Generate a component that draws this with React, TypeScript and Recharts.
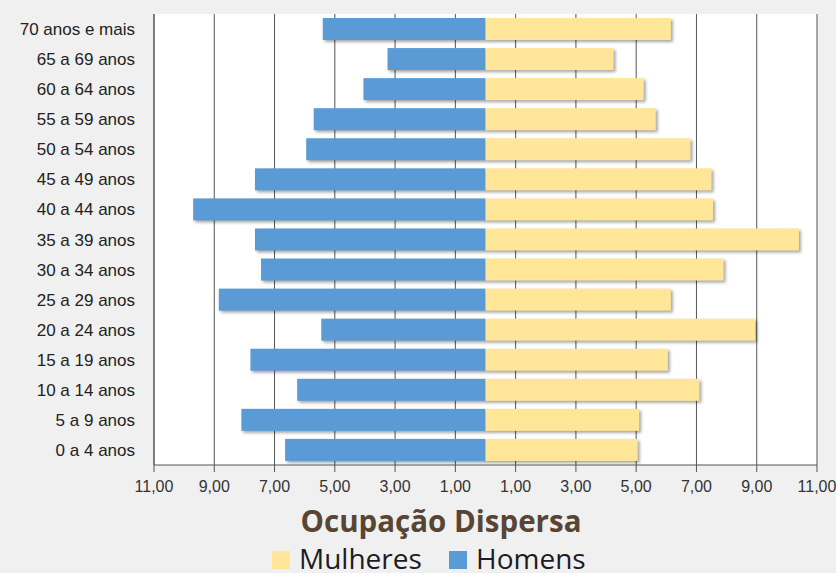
import React from "react";
import { BarChart, Bar, XAxis, YAxis, CartesianGrid } from "recharts";

const categories = [
  "70 anos e mais",
  "65 a 69 anos",
  "60 a 64 anos",
  "55 a 59 anos",
  "50 a 54 anos",
  "45 a 49 anos",
  "40 a 44 anos",
  "35 a 39 anos",
  "30 a 34 anos",
  "25 a 29 anos",
  "20 a 24 anos",
  "15 a 19 anos",
  "10 a 14 anos",
  "5 a 9 anos",
  "0 a 4 anos",
];
const homens = [5.4, 3.25, 4.05, 5.7, 5.95, 7.65, 9.7, 7.65, 7.45, 8.85, 5.45, 7.8, 6.25, 8.1, 6.65];
const mulheres = [6.15, 4.25, 5.25, 5.65, 6.8, 7.5, 7.55, 10.4, 7.9, 6.15, 8.95, 6.05, 7.1, 5.1, 5.05];
const xTicks = [-11, -9, -7, -5, -3, -1, 1, 3, 5, 7, 9, 11];
const title = "Ocupação Dispersa";
const seriesNames = { mulheres: "Mulheres", homens: "Homens" };

const COLOR_H = "#5b9bd5";
const COLOR_M = "#ffe699";

const data = categories.map((c, i) => ({
  cat: c,
  homens: -homens[i],
  mulheres: mulheres[i],
}));

const fmt = (v: number) => Math.abs(v).toFixed(2).replace(".", ",");

const ShadowBar = (props: any) => {
  const { x, y, width, height, fill } = props;
  if (width == null || height == null) return null;
  const rx = width < 0 ? x + width : x;
  const w = Math.abs(width);
  return (
    <rect
      x={rx}
      y={y}
      width={w}
      height={height}
      fill={fill}
      style={{ filter: "drop-shadow(2px 2px 1.5px rgba(0,0,0,0.35))" }}
    />
  );
};

const CatTick = (props: any) => {
  const { y, payload } = props;
  return (
    <text
      x={135}
      y={y}
      dy="0.355em"
      textAnchor="end"
      fontFamily="'Liberation Sans', Arial, sans-serif"
      fontSize={17}
      fill="#222"
    >
      {payload.value}
    </text>
  );
};

export default function App() {
  return (
    <div
      style={{
        position: "absolute",
        left: 0,
        top: 0,
        width: 836,
        height: 573,
        background: "#f0f0f0",
        overflow: "hidden",
      }}
    >
      <BarChart
        width={836}
        height={500}
        data={data}
        layout="vertical"
        stackOffset="sign"
        margin={{ top: 14, right: 19, left: 0, bottom: 0 }}
      >
        <CartesianGrid horizontal={false} vertical stroke="#555" fill="#ffffff" />
        <XAxis
          type="number"
          domain={[-11, 11]}
          ticks={xTicks}
          tickFormatter={fmt}
          height={35}
          tickSize={7}
          tickMargin={9}
          axisLine={{ stroke: "#555" }}
          tickLine={{ stroke: "#555" }}
          tick={{
            fontFamily: "'Liberation Sans Narrow', 'Liberation Sans', Arial, sans-serif",
            fontSize: 16,
            fill: "#333",
          }}
          interval={0}
        />
        <YAxis
          type="category"
          dataKey="cat"
          width={154}
          axisLine={{ stroke: "#555" }}
          tickLine={false}
          tick={<CatTick />}
          interval={0}
        />
        <Bar
          dataKey="homens"
          name={seriesNames.homens}
          stackId="a"
          fill={COLOR_H}
          barSize={22}
          shape={<ShadowBar />}
          isAnimationActive={false}
        />
        <Bar
          dataKey="mulheres"
          name={seriesNames.mulheres}
          stackId="a"
          fill={COLOR_M}
          barSize={22}
          shape={<ShadowBar />}
          isAnimationActive={false}
        />
      </BarChart>
      <svg
        width={836}
        height={73}
        style={{ position: "absolute", left: 0, top: 500 }}
      >
        <text
          x={441}
          y={32}
          textAnchor="middle"
          fontFamily="'Open Sans', sans-serif"
          fontWeight={700}
          fontSize={29.5}
          fill="#584534"
        >
          {title}
        </text>
        <rect x={272} y={51} width={18} height={18} fill={COLOR_M} />
        <text
          x={299}
          y={69}
          fontFamily="'Open Sans', sans-serif"
          fontSize={28}
          fill="#1c1c24"
        >
          {seriesNames.mulheres}
        </text>
        <rect x={449} y={51} width={18} height={18} fill={COLOR_H} />
        <text
          x={476}
          y={69}
          fontFamily="'Open Sans', sans-serif"
          fontSize={28}
          fill="#1c1c24"
        >
          {seriesNames.homens}
        </text>
      </svg>
    </div>
  );
}
